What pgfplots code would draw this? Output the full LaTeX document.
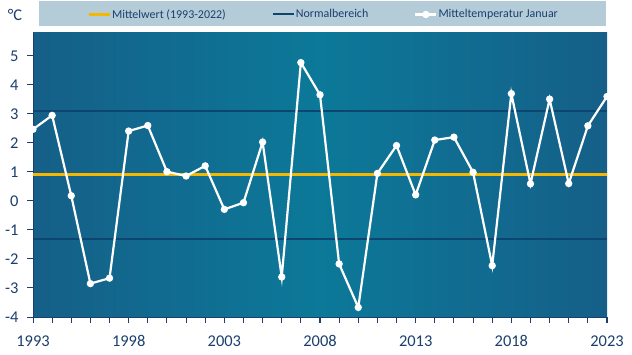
\documentclass[border=0pt]{standalone}
\usepackage{pgfplots}
\pgfplotsset{compat=1.18}
\usepackage{fontspec}
\setmainfont{Carlito}
\definecolor{navy}{HTML}{1B3F6E}
\definecolor{bgl}{HTML}{155F88}
\definecolor{bgm}{HTML}{0C7999}
\definecolor{normc}{HTML}{0C4670}
\definecolor{gold}{HTML}{F5B700}
\definecolor{legbg}{HTML}{B4CBD8}
\begin{document}
\begin{tikzpicture}
\path[use as bounding box] (0,0) rectangle (632bp,355bp);
\fill[legbg] (39bp,329bp) rectangle (606bp,354bp);
\node[text=navy, font=\fontsize{16.5}{18}\selectfont, inner sep=0pt] at (15bp,340bp) {°C};
\begin{axis}[
 at={(33bp,38bp)}, anchor=south west,
 scale only axis, width=574bp, height=284bp,
 xmin=1993, xmax=2023, ymin=-4, ymax=5.79,
 axis x line*=bottom, axis y line*=left,
 axis line style={navy, line width=1pt},
 axis background/.style={shade, left color=bgl, right color=bgl, middle color=bgm},
 xtick={1993,1998,...,2023}, minor xtick={1993,...,2023},
 ytick={-4,...,5},
 tick align=outside, major tick length=6bp, minor tick length=6bp,
 tick style={navy, line width=1pt},
 /pgf/number format/assume math mode=true,
 /pgf/number format/1000 sep={},
 ticklabel style={text=navy, font=\fontsize{16.5}{18}\selectfont},
 xticklabel style={yshift=-9bp},
 yticklabel style={xshift=-5bp},
 legend columns=3,
 legend style={at={(0.5,1)}, anchor=center, xshift=3bp, yshift=18.5bp,
   draw=none, fill=none, text=navy, font=\fontsize{12}{14}\selectfont,
   nodes={inner sep=1bp},
   /tikz/every even column/.append style={column sep=45bp}},
 legend image code/.code={\draw[mark repeat=2,mark phase=2,#1] plot coordinates {(0bp,0bp) (10.5bp,0bp) (21bp,0bp)};},
]
\addplot[gold, line width=3bp] coordinates {(1993,0.9) (2023,0.9)};
\addlegendentry{Mittelwert (1993-2022)}
\addplot[normc, line width=2bp] coordinates {(1993,3.11) (2023,3.11)};
\addlegendentry{Normalbereich}
\addplot[normc, line width=2bp, forget plot] coordinates {(1993,-1.3) (2023,-1.3)};
\addplot[white, line width=2.2bp, mark=*, mark size=2.5bp, mark options={fill=white}] coordinates {
(1993,2.47) (1994,2.95) (1995,0.18) (1996,-2.85) (1997,-2.66)
(1998,2.41) (1999,2.6) (2000,1.01) (2001,0.86) (2002,1.21)
(2003,-0.29) (2004,-0.06) (2005,2.03) (2006,-2.62) (2007,4.77)
(2008,3.66) (2009,-2.17) (2010,-3.67) (2011,0.95) (2012,1.91)
(2013,0.21) (2014,2.1) (2015,2.2) (2016,0.99) (2017,-2.23)
(2018,3.7) (2019,0.59) (2020,3.51) (2021,0.6) (2022,2.59) (2023,3.6)};
\addlegendentry{Mitteltemperatur Januar}
\end{axis}
\end{tikzpicture}
\end{document}
